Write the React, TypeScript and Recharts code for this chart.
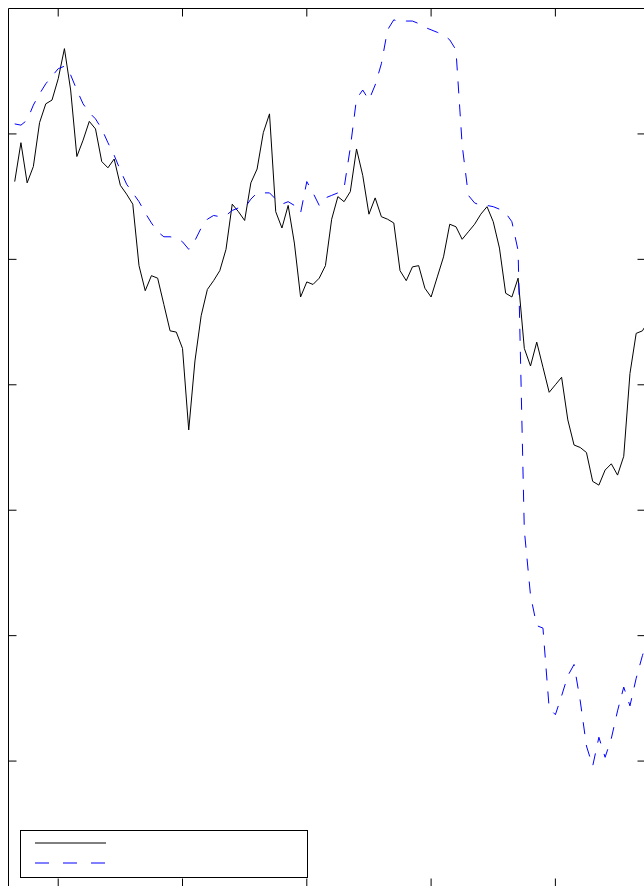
import React from 'react';
import { LineChart, Line, XAxis, YAxis, ReferenceArea, Legend } from 'recharts';

// solid black series, one value per period
const blackValues = [
  5.62, 5.93, 5.61, 5.74, 6.09, 6.24, 6.27, 6.44, 6.68, 6.35,
  5.82, 5.95, 6.10, 6.04, 5.78, 5.73, 5.80, 5.59, 5.52, 5.44,
  4.95, 4.75, 4.87, 4.85, 4.64, 4.43, 4.42, 4.29, 3.64, 4.19,
  4.55, 4.76, 4.83, 4.91, 5.08, 5.44, 5.38, 5.31, 5.61, 5.72,
  6.01, 6.16, 5.38, 5.25, 5.43, 5.13, 4.70, 4.82, 4.80, 4.85,
  4.95, 5.32, 5.50, 5.46, 5.54, 5.88, 5.67, 5.36, 5.49, 5.34,
  5.32, 5.29, 4.91, 4.83, 4.94, 4.95, 4.77, 4.70, 4.86, 5.02,
  5.28, 5.26, 5.16, 5.22, 5.28, 5.36, 5.42, 5.30, 5.09, 4.73,
  4.70, 4.85, 4.29, 4.15, 4.34, 4.14, 3.94, 4.00, 4.06, 3.72,
  3.52, 3.50, 3.46, 3.23, 3.20, 3.32, 3.37, 3.28, 3.43, 4.09,
  4.41, 4.43, 4.51,
];

// dashed blue series, same periods
const blueValues = [
  6.08, 6.07, 6.11, 6.23, 6.32, 6.40, 6.46, 6.52, 6.54, 6.47,
  6.35, 6.24, 6.17, 6.12, 6.04, 5.93, 5.83, 5.71, 5.60, 5.53,
  5.46, 5.37, 5.29, 5.22, 5.18, 5.18, 5.17, 5.14, 5.08, 5.15,
  5.25, 5.32, 5.35, 5.34, 5.35, 5.39, 5.41, 5.41, 5.48, 5.53,
  5.53, 5.53, 5.48, 5.44, 5.46, 5.43, 5.37, 5.62, 5.53, 5.43,
  5.49, 5.51, 5.53, 5.57, 5.89, 6.28, 6.35, 6.27, 6.39, 6.56,
  6.83, 6.91, 6.89, 6.90, 6.90, 6.88, 6.85, 6.83, 6.81, 6.79,
  6.75, 6.67, 5.91, 5.51, 5.45, 5.43, 5.43, 5.42, 5.40, 5.37,
  5.30, 5.07, 2.84, 2.32, 2.08, 2.06, 1.42, 1.37, 1.52, 1.68,
  1.77, 1.48, 1.12, 0.96, 1.19, 1.03, 1.18, 1.40, 1.59, 1.44,
  1.66, 1.84, 2.00,
];

const xTicks = [7, 27, 47, 67, 87];
const yTicks = [1, 2, 3, 4, 5, 6];

const series = [
  { key: 'black', color: '#000000', dash: undefined as string | undefined, legendDash: undefined as string | undefined },
  { key: 'blue', color: '#0000ff', dash: '12 11', legendDash: '14 14' },
];

const data = blackValues.map((v, i) => ({ t: i, black: v, blue: blueValues[i] }));

const CHART_W = 660;
const CHART_H = 900;
const TOP = 8.5;
const BOTTOM = 886.5;
const LEFT = 8.5;
const RIGHT = 645.5;
const TICK_LEN = 8;

// ticks point inwards, on both opposite sides of the box
const XTick = (props: any) => {
  const { x } = props;
  return (
    <g>
      <line x1={x} x2={x} y1={BOTTOM} y2={BOTTOM - TICK_LEN} stroke="#000" />
      <line x1={x} x2={x} y1={TOP} y2={TOP + TICK_LEN} stroke="#000" />
    </g>
  );
};

const YTick = (props: any) => {
  const { y } = props;
  return (
    <g>
      <line x1={LEFT} x2={LEFT + TICK_LEN} y1={y} y2={y} stroke="#000" />
      <line x1={RIGHT - TICK_LEN} x2={RIGHT} y1={y} y2={y} stroke="#000" />
    </g>
  );
};

const LegendBox = () => (
  <svg width={288} height={48} style={{ display: 'block' }}>
    <rect x={0.5} y={0.5} width={287} height={47} fill="#fff" stroke="#000" />
    {series.map((s, i) => (
      <line
        key={s.key}
        x1={15}
        x2={86}
        y1={13 + i * 20}
        y2={13 + i * 20}
        stroke={s.color}
        strokeDasharray={s.legendDash}
      />
    ))}
  </svg>
);

export default function App() {
  return (
    <div
      style={{
        position: 'absolute',
        left: 0,
        top: 0,
        width: 644,
        height: 886,
        overflow: 'hidden',
        background: '#fff',
      }}
    >
      <LineChart
        width={CHART_W}
        height={CHART_H}
        data={data}
        margin={{ top: TOP, left: LEFT - 1, right: CHART_W - RIGHT, bottom: CHART_H - BOTTOM - 1 }}
      >
        <XAxis
          type="number"
          dataKey="t"
          domain={[-1, 101.5]}
          ticks={xTicks}
          interval={0}
          allowDataOverflow
          height={1}
          axisLine={false}
          tickLine={false}
          tick={<XTick />}
        />
        <YAxis
          type="number"
          domain={[0, 7]}
          ticks={yTicks}
          interval={0}
          allowDataOverflow
          width={1}
          axisLine={false}
          tickLine={false}
          tick={<YTick />}
        />
        <ReferenceArea x1={-1} x2={101.5} y1={0} y2={7} stroke="#000" fill="#fff" fillOpacity={0} ifOverflow="visible" />
        {series.map((s) => (
          <Line
            key={s.key}
            type="linear"
            dataKey={s.key}
            stroke={s.color}
            strokeWidth={1}
            strokeDasharray={s.dash}
            dot={false}
            activeDot={false}
            isAnimationActive={false}
          />
        ))}
        <Legend
          layout="vertical"
          align="center"
          verticalAlign="middle"
          wrapperStyle={{ left: 20, top: 830, width: 288, height: 48 }}
          content={() => <LegendBox />}
        />
      </LineChart>
    </div>
  );
}
